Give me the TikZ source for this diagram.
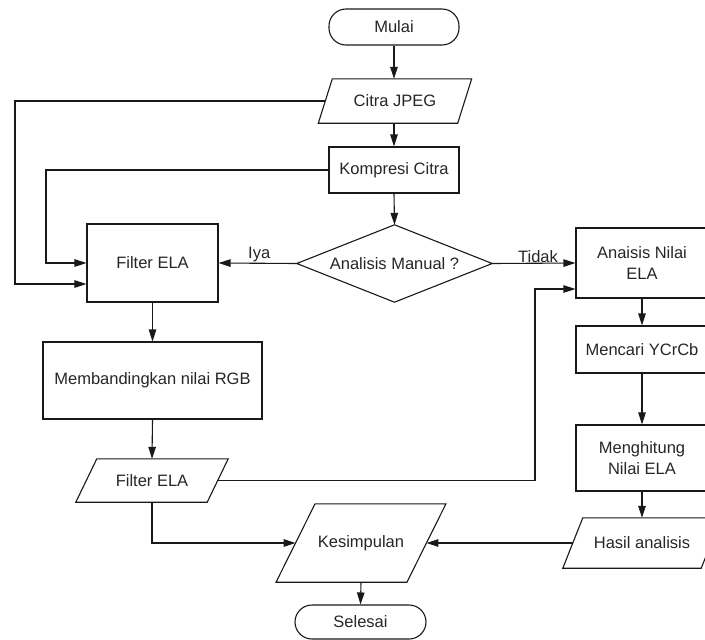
\documentclass[tikz,border=0pt]{standalone}
\usepackage{fontspec}
\setmainfont{Liberation Sans}
\usetikzlibrary{arrows.meta,calc}
\newcommand\drawpara[2]{\draw[shapeline] ($(#1.north west)+(#2/2,0)$) -- ($(#1.north east)+(#2/2,0)$) -- ($(#1.south east)-(#2/2,0)$) -- ($(#1.south west)-(#2/2,0)$) -- cycle;}
\begin{document}
\begin{tikzpicture}[x=1pt,y=-1pt,
  txt/.style={font=\fontsize{16.5}{21}\selectfont, text=black!85, align=center, inner sep=0pt},
  shapeline/.style={line width=1.1pt, draw=black!90, line join=miter},
  boxnode/.style={txt, shapeline, rectangle},
  ionode/.style={txt, rectangle, draw=none},
  termnode/.style={txt, shapeline, rectangle, rounded corners=17pt},
  arr/.style={line width=1.1pt, draw=black!90, -{Triangle[length=12pt,width=7.5pt]}},
  lbl/.style={font=\fontsize{16.5}{21}\selectfont, text=black!85, inner sep=0.3pt}
]
\useasboundingbox (0,0) rectangle (705,640);
\fill[white] (0,0) rectangle (705,640);
\clip (0,0) rectangle (705,640);

% main column
\node[termnode, minimum width=130pt, minimum height=36pt] (mulai) at (394,27) {Mulai};
\node[ionode, minimum width=139pt, minimum height=44pt] (citra) at (395,101) {Citra JPEG};
\drawpara{citra}{14}
\node[boxnode, minimum width=130pt, minimum height=46pt] (komp) at (394,170) {Kompresi Citra};
\node[txt, minimum width=195pt, minimum height=77pt] (dia) at (394.5,263.5) {Analisis Manual ?};
\draw[shapeline] (dia.north) -- (dia.east) -- (dia.south) -- (dia.west) -- cycle;

% left column
\node[boxnode, minimum width=131pt, minimum height=78pt] (fela) at (152.5,263) {Filter ELA};
\node[boxnode, minimum width=219pt, minimum height=77pt] (banding) at (152.5,380.5) {Membandingkan nilai RGB};
\node[ionode, minimum width=131pt, minimum height=43pt] (fpara) at (152,480.5) {Filter ELA};
\drawpara{fpara}{21}

% bottom
\node[ionode, minimum width=130.5pt, minimum height=78pt] (kes) at (361,543) {Kesimpulan};
\drawpara{kes}{39}
\node[termnode, minimum width=131pt, minimum height=34pt] (selesai) at (360.5,622) {Selesai};

% right column
\node[boxnode, minimum width=132pt, minimum height=70pt] (ana) at (642,263) {Anaisis Nilai\\ELA};
\node[boxnode, minimum width=132pt, minimum height=47pt] (cari) at (642,349.5) {Mencari YCrCb};
\node[boxnode, minimum width=132pt, minimum height=66pt] (hitung) at (642,458) {Menghitung\\Nilai ELA};
\node[ionode, minimum width=138pt, minimum height=50pt] (hasil) at (642,543) {Hasil analisis};
\drawpara{hasil}{20}

% coordinates for bends
\coordinate (c1) at (15,284);
\coordinate (c2) at (46,263);
\coordinate (c3) at (535,289);

% connectors
\draw[arr] (mulai.south) -- (mulai.south |- citra.north);
\draw[arr] (komp.north |- citra.south) -- (komp.north);
\draw[arr] (komp.south) -- (dia.north);
\draw[arr] (citra.west) -| (c1) -- (c1 -| fela.west);
\draw[arr] (komp.west) -| (c2) -- (fela.west);
\draw[arr] (dia.west) -- node[lbl, above, pos=0.48] {Iya} (fela.east);
\draw[arr] (dia.east) -- node[lbl, above, pos=0.55] {Tidak} (ana.west);
\draw[arr] (fela.south) -- (banding.north);
\draw[arr] (banding.south) -- (fpara.north);
\draw[arr] (fpara.east) -| (c3) -- (c3 -| ana.west);
\draw[arr] (fpara.south) |- (kes.west);
\draw[arr] (ana.south) -- (cari.north);
\draw[arr] (cari.south) -- (hitung.north);
\draw[arr] (hitung.south) -- (hasil.north);
\draw[arr] (hasil.west) -- (kes.east);
\draw[arr] (kes.south) -- (selesai.north);
\end{tikzpicture}
\end{document}
